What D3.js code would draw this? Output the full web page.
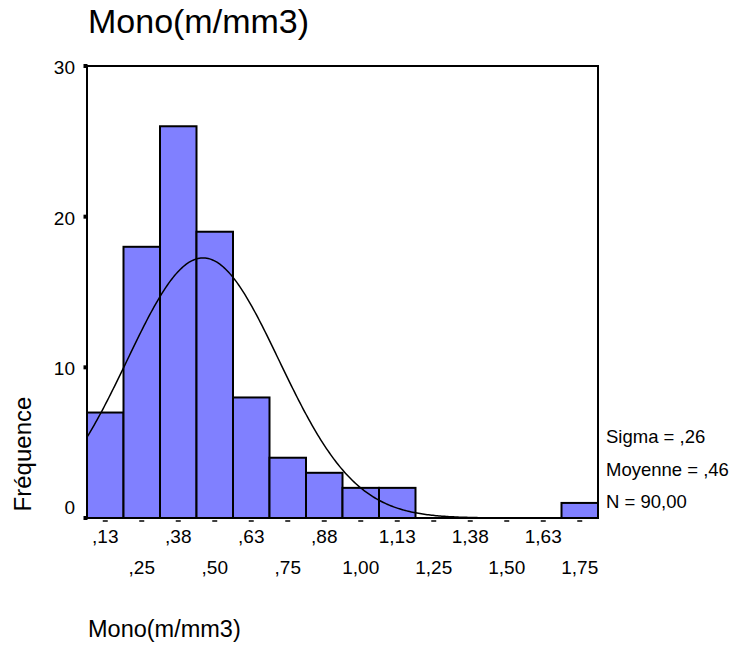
<!DOCTYPE html>
<html><head><meta charset="utf-8">
<script src="https://cdn.jsdelivr.net/npm/d3@7/dist/d3.min.js"></script>
<style>body{margin:0;background:#fff;}svg{display:block;font-family:"Liberation Sans",Arial,sans-serif;}</style>
</head><body>
<script>
const binCenters = [0.125,0.25,0.375,0.5,0.625,0.75,0.875,1.0,1.125,1.25,1.375,1.5,1.625,1.75];
const binLabels = [",13",",25",",38",",50",",63",",75",",88","1,00","1,13","1,25","1,38","1,50","1,63","1,75"];
const counts = [7,18,26,19,8,4,3,2,2,0,0,0,0,1];
const yTicks = [0,10,20,30];
const stats = {sigma:0.26, mean:0.46, n:90};
const statLabels = ["Sigma = ,26","Moyenne = ,46","N = 90,00"];
const binWidth = 0.125;

const W=733,H=646;
const svg=d3.select("body").append("svg").attr("width",W).attr("height",H);
const L=87,T=66,R=598,B=518;
const x=d3.scaleLinear().domain([binCenters[0]-binWidth/2, binCenters[binCenters.length-1]+binWidth/2]).range([L,R]);
const y=d3.scaleLinear().domain([0,30]).range([B,T]);

// bars
svg.append("g").selectAll("rect").data(binCenters.map((c,i)=>({c,v:counts[i]})).filter(d=>d.v>0))
 .join("rect")
 .attr("x",d=>x(d.c-binWidth/2)).attr("width",d=>x(d.c+binWidth/2)-x(d.c-binWidth/2))
 .attr("y",d=>y(d.v)).attr("height",d=>y(0)-y(d.v))
 .attr("fill","#8080ff").attr("stroke","#000").attr("stroke-width",2);

// normal curve
const peak = stats.n*binWidth/(stats.sigma*Math.sqrt(2*Math.PI));
const xs = d3.range(x.domain()[0], 1.45, 0.005);
svg.append("path").datum(xs)
 .attr("d",d3.line().x(d=>x(d)).y(d=>y(peak*Math.exp(-0.5*Math.pow((d-stats.mean)/stats.sigma,2)))))
 .attr("fill","none").attr("stroke","#000").attr("stroke-width",1.5);

// frame
svg.append("rect").attr("x",L).attr("y",T).attr("width",R-L).attr("height",B-T)
 .attr("fill","none").attr("stroke","#000").attr("stroke-width",2);

// y axis
const ya=svg.append("g");
yTicks.forEach(t=>{
  ya.append("rect").attr("x",L-3.5).attr("y",y(t)-2).attr("width",4).attr("height",4).attr("fill","#000");
  ya.append("text").attr("x",75).attr("y",y(t)+(t===0?-4:8)).attr("text-anchor","end")
   .attr("font-size",19).attr("fill","#000").text(t);
});

// x ticks (dashes) and labels
const xa=svg.append("g");
binCenters.forEach((c,i)=>{
  xa.append("line").attr("x1",x(c)-2.5).attr("x2",x(c)+2.5).attr("y1",B+3).attr("y2",B+3)
   .attr("stroke","#000").attr("stroke-width",1.5);
  xa.append("text").attr("x",x(c)).attr("y",i%2===0?543:574).attr("text-anchor","middle")
   .attr("font-size",19).attr("fill","#000").text(binLabels[i]);
});

// stats legend
statLabels.forEach((s,i)=>{
  svg.append("text").attr("x",606).attr("y",443+i*32.5).attr("font-size",18.5).attr("fill","#000").text(s);
});

// titles
svg.append("text").attr("x",88).attr("y",33).attr("font-size",34).attr("fill","#000").text("Mono(m/mm3)");
svg.append("text").attr("x",88).attr("y",637).attr("font-size",23.5).attr("fill","#000").text("Mono(m/mm3)");
svg.append("text").attr("transform","translate(31,454) rotate(-90)").attr("text-anchor","middle")
 .attr("font-size",24).attr("fill","#000").text("Fréquence");
</script>
</body></html>
